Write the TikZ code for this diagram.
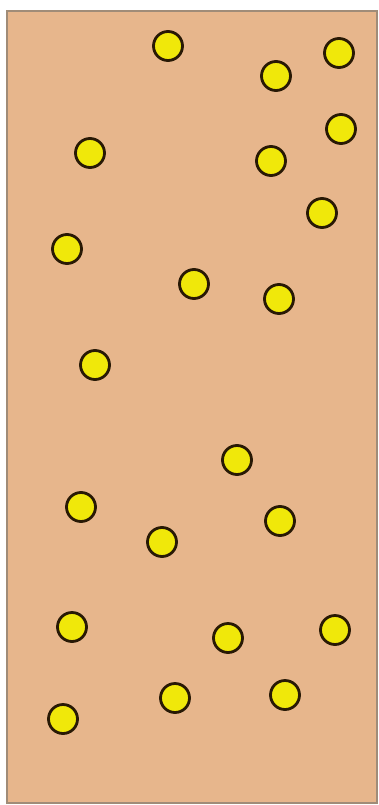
\documentclass[tikz,border=0pt]{standalone}
\begin{document}
\begin{tikzpicture}[x=1pt,y=-1pt,
  ball/.style={circle,draw=balledge,fill=ballfill,line width=2.8pt,minimum size=29pt,inner sep=0pt}]
\definecolor{bg}{RGB}{231,182,140}
\definecolor{frame}{RGB}{160,140,120}
\definecolor{ballfill}{RGB}{240,232,10}
\definecolor{balledge}{RGB}{40,25,5}
\useasboundingbox (0,0) rectangle (379,805);
\fill[white] (0,0) rectangle (379,805);
\draw[frame,fill=bg,line width=1.5pt] (7,11) rectangle (377,803);
\foreach \n/\x/\y in {1/168/46,2/276/76,3/339/53,4/90/153,5/271/161,6/341/129,7/322/213,
  8/67/249,9/194/284,10/279/299,11/95/365,12/237/460,13/81/507,14/280/521,15/162/542,
  16/72/627,17/228/638,18/335/630,19/175/698,20/285/695,21/63/719}
  \node[ball] (b\n) at (\x,\y) {};
\end{tikzpicture}
\end{document}
